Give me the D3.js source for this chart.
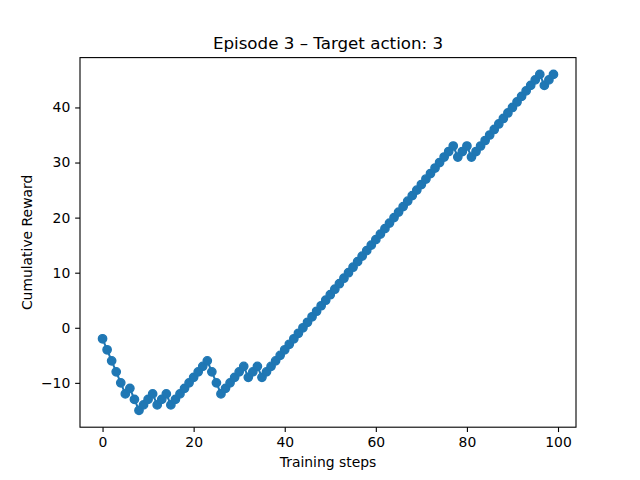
<!DOCTYPE html>
<html>
<head>
<meta charset="utf-8">
<script src="https://cdn.jsdelivr.net/npm/d3@7"></script>
<style>
  html, body { margin: 0; padding: 0; background: #fff; }
  svg { display: block; font-family: "DejaVu Sans", sans-serif; }
</style>
</head>
<body>
<svg id="chart" width="640" height="480"></svg>
<script>
// ---- data ----
const steps = d3.range(0, 100);
const rewards = [
  -2, -4, -6, -8, -10, -12, -11, -13, -15, -14,
  -13, -12, -14, -13, -12, -14, -13, -12, -11, -10,
  -9, -8, -7, -6, -8, -10, -12, -11, -10, -9,
  -8, -7, -9, -8, -7, -9, -8, -7, -6, -5,
  -4, -3, -2, -1, 0, 1, 2, 3, 4, 5,
  6, 7, 8, 9, 10, 11, 12, 13, 14, 15,
  16, 17, 18, 19, 20, 21, 22, 23, 24, 25,
  26, 27, 28, 29, 30, 31, 32, 33, 31, 32,
  33, 31, 32, 33, 34, 35, 36, 37, 38, 39,
  40, 41, 42, 43, 44, 45, 46, 44, 45, 46
];
const xTicks = [0, 20, 40, 60, 80, 100];
const yTicks = [-10, 0, 10, 20, 30, 40];
const titleText = "Episode 3 \u2013 Target action: 3";
const xLabel = "Training steps";
const yLabel = "Cumulative Reward";

// ---- layout ----
const W = 640, H = 480;
const L = 80, R = 576, T = 57.6, B = 427.2;
const color = "#1f77b4";

const svg = d3.select("#chart");

const xMin = d3.min(steps), xMax = d3.max(steps);
const yMin = d3.min(rewards), yMax = d3.max(rewards);
const xPad = (xMax - xMin) * 0.05, yPad = (yMax - yMin) * 0.05;

const x = d3.scaleLinear().domain([xMin - xPad, xMax + xPad]).range([L, R]);
const y = d3.scaleLinear().domain([yMin - yPad, yMax + yPad]).range([B, T]);

const data = steps.map((s, i) => ({ s, r: rewards[i] }));

const plot = svg.append("g");
plot.append("path")
  .datum(data)
  .attr("fill", "none")
  .attr("stroke", color)
  .attr("stroke-width", 2.08)
  .attr("stroke-linejoin", "round")
  .attr("stroke-linecap", "square")
  .attr("d", d3.line().x(d => x(d.s)).y(d => y(d.r)));

plot.selectAll("circle")
  .data(data)
  .join("circle")
  .attr("cx", d => x(d.s))
  .attr("cy", d => y(d.r))
  .attr("r", 4.17)
  .attr("fill", color)
  .attr("stroke", color)
  .attr("stroke-width", 1.39);

// axes
const tickLen = 4.86, tickPad = 4.86;
const xAxis = d3.axisBottom(x).tickValues(xTicks).tickSize(tickLen).tickPadding(tickPad).tickFormat(d3.format("d"));
const yAxis = d3.axisLeft(y).tickValues(yTicks).tickSize(tickLen).tickPadding(tickPad)
  .tickFormat(d => d < 0 ? "\u2212" + Math.abs(d) : String(d));

const gx = svg.append("g").attr("transform", `translate(0,${B})`).call(xAxis);
const gy = svg.append("g").attr("transform", `translate(${L},0)`).call(yAxis);
[gx, gy].forEach(g => {
  g.select(".domain").remove();
  g.selectAll(".tick line").attr("stroke", "#000").attr("stroke-width", 1.1);
  g.selectAll(".tick text").attr("fill", "#000").style("font-size", "13.9px").style("font-family", "DejaVu Sans");
});

// frame
svg.append("rect")
  .attr("x", L).attr("y", T).attr("width", R - L).attr("height", B - T)
  .attr("fill", "none").attr("stroke", "#000").attr("stroke-width", 1.1);

// title & labels
svg.append("text")
  .attr("x", (L + R) / 2).attr("y", 49)
  .attr("text-anchor", "middle")
  .style("font-size", "16.7px")
  .text(titleText);

svg.append("text")
  .attr("x", (L + R) / 2).attr("y", 467)
  .attr("text-anchor", "middle")
  .style("font-size", "13.9px")
  .text(xLabel);

svg.append("text")
  .attr("transform", `translate(32,${(T + B) / 2}) rotate(-90)`)
  .attr("text-anchor", "middle")
  .style("font-size", "13.9px")
  .text(yLabel);
</script>
</body>
</html>
